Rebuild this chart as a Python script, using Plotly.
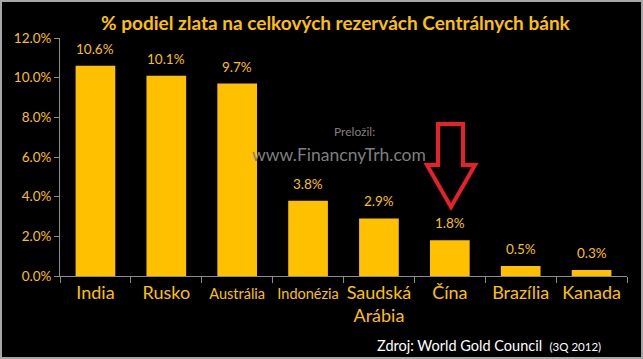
import plotly.graph_objects as go

categories = ["India", "Rusko", "Austrália", "Indonézia", "Saudská Arábia", "Čína", "Brazília", "Kanada"]
tick_labels = ["India", "Rusko", "<span style='font-size:14.5px'>Austrália</span>",
               "<span style='font-size:14.5px'>Indonézia</span>", "Saudská<br>Arábia", "Čína",
               "Brazília", "Kanada"]
values = [10.6, 10.1, 9.7, 3.8, 2.9, 1.8, 0.5, 0.3]
y_ticks = [0, 2, 4, 6, 8, 10, 12]

GOLD = "#FFC000"
FONT = "Lato"
W, H = 643, 359
L, R, T, B = 60, 16, 38, 83
PW, PH = W - L - R, H - T - B

fig = go.Figure()
fig.add_trace(go.Bar(
    x=categories, y=values,
    marker=dict(color=GOLD, line=dict(width=0)),
    width=0.56,
    hoverinfo="skip",
))

def px(x):
    return (x - L) / PW

def py(y):
    return (H - B - y) / PH

shapes = [
    dict(type="rect", xref="paper", yref="paper",
         x0=px(1), x1=px(W - 1), y0=py(1), y1=py(H - 1),
         line=dict(color="#A6A6A6", width=2), fillcolor="rgba(0,0,0,0)", layer="below"),
]

# red arrow (outline)
pts = [(438, 124), (463, 124), (463, 165), (475, 165), (451, 207), (427, 165), (438, 165)]
path = "M " + " L ".join(f"{px(x)},{py(y)}" for x, y in pts) + " Z"
shapes.append(dict(type="path", xref="paper", yref="paper", path=path,
                   line=dict(color="#E8202A", width=4), fillcolor="rgba(0,0,0,0)"))

annotations = [
    dict(text="<b>% podiel zlata na celkových rezervách Centrálnych bánk</b>",
         xref="paper", yref="paper", x=px(336), y=py(22), showarrow=False,
         font=dict(color=GOLD, size=19, family=FONT), xanchor="center", yanchor="middle"),
    dict(text="Preložil:", xref="paper", yref="paper", x=px(354), y=py(131), showarrow=False,
         font=dict(color="#7F7F7F", size=12, family=FONT), xanchor="center", yanchor="middle"),
    dict(text="www.FinancnyTrh.com", xref="paper", yref="paper", x=px(339), y=py(154), showarrow=False,
         font=dict(color="#7F7F7F", size=17.5, family=FONT), xanchor="center", yanchor="middle"),
    dict(text="Zdroj: World Gold Council  <span style='font-size:11.5px'>(3Q 2012)</span>",
         xref="paper", yref="paper", x=px(603), y=py(345), showarrow=False,
         font=dict(color="#FFFFFF", size=14.5, family=FONT), xanchor="right", yanchor="middle"),
]

for c, v in zip(categories, values):
    annotations.append(dict(
        x=c, y=v, xref="x", yref="y", text=f"{v:.1f}%", showarrow=False,
        yanchor="bottom", yshift=7,
        font=dict(color=GOLD, size=13.5, family=FONT),
    ))

fig.update_layout(
    width=W, height=H,
    margin=dict(l=L, r=R, t=T, b=B, pad=0),
    paper_bgcolor="#000000", plot_bgcolor="#000000",
    showlegend=False,
    shapes=shapes,
    annotations=annotations,
    xaxis=dict(
        tickvals=categories, ticktext=tick_labels, tickangle=0, automargin=False,
        tickfont=dict(color=GOLD, size=18, family=FONT),
        showline=True, linecolor="#8C8C8C", linewidth=1,
        ticks="outside", tickson="boundaries", ticklen=6, tickcolor="#8C8C8C",
        showgrid=False, zeroline=False,
    ),
    yaxis=dict(
        range=[0, 12], tickvals=y_ticks, automargin=False,
        ticktext=[f"{v:.1f}%" for v in y_ticks],
        tickfont=dict(color=GOLD, size=13.5, family=FONT),
        showline=True, linecolor="#8C8C8C", linewidth=1,
        ticks="outside", ticklen=5, tickcolor="#8C8C8C",
        showgrid=False, zeroline=False,
    ),
)

fig.write_html("out.html", config={"displayModeBar": False},
               post_script="document.body.style.margin='0';document.body.style.background='#000';")
